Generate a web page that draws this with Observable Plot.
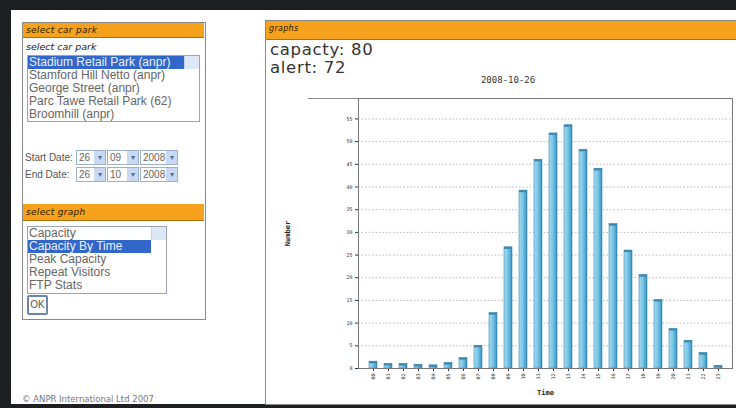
<!DOCTYPE html>
<html>
<head>
<meta charset="utf-8">
<script src="https://cdn.jsdelivr.net/npm/d3@7"></script>
<script src="https://cdn.jsdelivr.net/npm/@observablehq/plot@0.6"></script>
<style>
  html,body{margin:0;padding:0;}
  body{width:736px;height:408px;background:#1e1f23;position:relative;overflow:hidden;font-family:"Liberation Sans",Arial,sans-serif;}
  .page{position:absolute;left:11px;top:10px;width:725px;height:394px;background:#fff;}
  .abs{position:absolute;}
  .box{position:absolute;border:1px solid #8a8a8a;background:#fff;}
  .hdr{position:absolute;background:#f6a11c;border-bottom:1px solid #b07010;color:#2a1c08;font-family:"DejaVu Sans",sans-serif;font-size:9px;font-style:italic;letter-spacing:0.3px;padding-left:3px;box-sizing:border-box;}
  .list{position:absolute;border:1px solid #9aa4b4;background:#fff;font-size:12px;color:#666;box-sizing:border-box;}
  .list div{height:13px;line-height:13px;padding-left:1px;white-space:nowrap;overflow:hidden;}
  .list .sel{background:#3266c8;color:#eaf0ff;}
  .scroll{position:absolute;top:0;right:0;width:13px;height:100%;background:#dde8f6;border-left:1px solid #c4d2e6;}
  .sel-box{position:absolute;height:15px;border:1px solid #9ab0cc;background:#fff;font-size:10px;color:#666;box-sizing:border-box;line-height:13px;padding-left:2px;}
  .sel-box span{position:absolute;right:0;top:0;width:11px;height:13px;background:#c9d9f1;color:#4a6fa8;font-size:8px;text-align:center;}
  .cap{position:absolute;left:270px;font-family:"DejaVu Sans",sans-serif;font-size:16.5px;line-height:16px;color:#333;letter-spacing:0.7px;}
</style>
</head>
<body>
<div class="page"></div>

<!-- left panel -->
<div class="box" style="left:22px;top:22px;width:182px;height:296px;"></div>
<div class="hdr" style="left:23px;top:23px;width:181px;height:15px;line-height:14px;">select car park</div>
<div class="abs" style="left:26px;top:41px;font-family:'DejaVu Sans',sans-serif;font-style:italic;font-size:9.5px;color:#222;">select car park</div>
<div class="list" id="parks" style="left:27px;top:55px;width:173px;height:67px;"><div class="scroll"></div></div>
<div class="abs" style="left:25px;top:152px;font-size:10px;color:#555;">Start Date:</div>
<div class="abs" style="left:25px;top:169px;font-size:10px;color:#555;">End Date:</div>
<div id="dates"></div>
<div class="hdr" style="left:23px;top:204px;width:181px;height:17px;line-height:16px;">select graph</div>
<div class="list" id="graphs" style="left:27px;top:226px;width:140px;height:68px;"><div class="scroll"></div></div>
<div class="abs" style="left:27px;top:295px;width:17px;height:16px;border:2px solid #6d86a8;border-radius:2px;font-size:10px;color:#555;line-height:16px;text-align:center;">OK</div>
<div class="abs" style="left:22px;top:394px;line-height:10px;font-family:'DejaVu Sans',sans-serif;font-size:8.5px;color:#777;">© ANPR International Ltd 2007</div>

<!-- right panel -->
<div class="box" style="left:265px;top:20px;width:480px;height:383px;"></div>
<div class="hdr" style="left:266px;top:21px;width:470px;height:19px;line-height:16px;font-size:8px;">graphs</div>
<div class="cap" id="cap1" style="top:42px;"></div>
<div class="cap" id="cap2" style="top:60px;"></div>
<div class="abs" style="left:308px;top:98px;width:50px;height:1px;background:#888;"></div>
<div class="abs" id="title" style="left:408px;width:200px;top:75px;text-align:center;font-family:'DejaVu Sans Mono',monospace;font-size:9px;color:#333;"></div>
<div class="abs" id="chart" style="left:268px;top:78px;"></div>

<script>
const carParks = ["Stadium Retail Park (anpr)","Stamford Hill Netto (anpr)","George Street (anpr)","Parc Tawe Retail Park (62)","Broomhill (anpr)"];
const graphTypes = ["Capacity","Capacity By Time","Peak Capacity","Repeat Visitors","FTP Stats"];
const startDate = ["26","09","2008"];
const endDate = ["26","10","2008"];
const capacity = 80;
const alertLevel = 72;
const chartDate = "2008-10-26";
const hours = ["00","01","02","03","04","05","06","07","08","09","10","11","12","13","14","15","16","17","18","19","20","21","22","23"];
const counts = [1.5,1.0,1.0,0.8,0.7,1.2,2.3,5.0,12.2,26.7,39.2,46.0,51.8,53.6,48.2,44.0,31.8,26.0,20.6,15.1,8.7,6.1,3.4,0.6];
const yTicks = [0,5,10,15,20,25,30,35,40,45,50,55];

// UI text
const pl = document.getElementById("parks");
carParks.forEach((p,i)=>{const d=document.createElement("div");d.textContent=p;if(i===0)d.className="sel";d.style.width="156px";pl.insertBefore(d,pl.lastChild);});
const gl = document.getElementById("graphs");
graphTypes.forEach((p,i)=>{const d=document.createElement("div");d.textContent=p;if(i===1)d.className="sel";d.style.width="122px";gl.insertBefore(d,gl.lastChild);});
const dates = document.getElementById("dates");
[[startDate,150],[endDate,167]].forEach(([arr,top])=>{
  const lefts=[76,107,140], widths=[30,32,38];
  arr.forEach((v,i)=>{const s=document.createElement("div");s.className="sel-box";s.style.left=lefts[i]+"px";s.style.top=top+"px";s.style.width=widths[i]+"px";s.innerHTML=v+"<span>▾</span>";dates.appendChild(s);});
});
document.getElementById("cap1").textContent = "capacty: " + capacity;
document.getElementById("cap2").textContent = "alert: " + alertLevel;
document.getElementById("title").textContent = chartDate;

// chart
const data = hours.map((h,i)=>({hour:h, count:counts[i]}));
const chart = Plot.plot({
  width:468, height:324,
  marginLeft:90, marginTop:20, marginBottom:34, marginRight:4,
  style:{background:"transparent", fontFamily:"DejaVu Sans Mono, monospace", fontSize:"5px", color:"#333"},
  x:{type:"band", domain:hours, paddingInner:0.5, paddingOuter:0.35},
  y:{domain:[0,59.5]},
  marks:[
    Plot.gridY(yTicks.filter(t=>t>0), {stroke:"#b8b8b8", strokeOpacity:1, strokeDasharray:"1.5,2"}),
    Plot.barY(data, {x:"hour", y:"count", fill:"url(#barGrad)", stroke:"#3f8db4", strokeWidth:0.6}),
    Plot.barY(data, {x:"hour", y1:d=>Math.max(0,d.count-0.45), y2:"count", fill:"#3d86ac"}),
    Plot.axisY(yTicks, {tickSize:3, tickPadding:3, fontSize:5, label:"Number", labelAnchor:"center", labelOffset:73, labelArrow:"none"}),
    Plot.axisX({tickSize:3, tickPadding:2, tickRotate:-90, fontSize:5, label:"Time", labelAnchor:"center", labelOffset:26, labelArrow:"none"}),
    Plot.frame({stroke:"#777"})
  ]
});
const ns = "http://www.w3.org/2000/svg";
const defs = document.createElementNS(ns,"defs");
defs.innerHTML = '<linearGradient id="barGrad" x1="0" x2="1" y1="0" y2="0">' +
  '<stop offset="0" stop-color="#a6daf0"/><stop offset="0.45" stop-color="#7cc7e8"/>' +
  '<stop offset="0.8" stop-color="#4ea9d3"/><stop offset="1" stop-color="#2f7ea8"/></linearGradient>';
chart.insertBefore(defs, chart.firstChild);
chart.querySelectorAll('[aria-label="y-axis label"] text, [aria-label="x-axis label"] text').forEach(t=>{
  t.style.fontSize="7px"; t.style.fontWeight="bold"; t.style.fill="#222";
});
document.getElementById("chart").appendChild(chart);
</script>
</body>
</html>
